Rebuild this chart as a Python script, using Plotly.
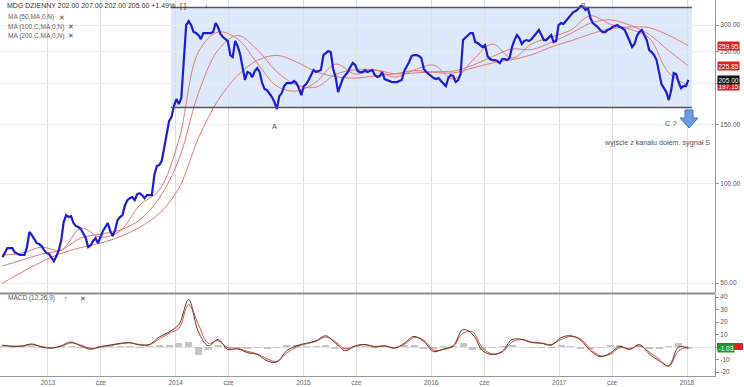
import math
import pandas as pd
import plotly.graph_objects as go

# ---------------- DATA ----------------
price_dates = pd.date_range("2012-08-24", periods=281, freq="7D")
close = [59.9, 62.0, 63.8, 63.8, 63.8, 62.0, 61.2, 60.8, 60.8, 60.8,
         64.2, 71.3, 69.8, 67.9, 66.0, 65.6, 64.7, 62.9, 61.6, 61.2,
         59.9, 58.3, 60.3, 62.9, 67.4, 76.4, 80.2, 79.1, 79.6, 75.9,
         74.3, 73.8, 72.8, 70.3, 68.4, 64.2, 65.1, 66.9, 68.4, 66.0,
         69.3, 71.8, 73.8, 75.9, 71.8, 69.3, 72.3, 77.5, 79.1, 80.2,
         85.9, 89.0, 90.2, 90.9, 89.0, 92.8, 93.4, 92.1, 90.2, 92.1,
         92.1, 92.1, 105.9, 112.7, 113.5, 116.7, 127.7, 139.8, 154.0, 158.4,
         170.9, 179.5, 173.3, 180.7, 243.6, 300.0, 308.4, 300.0, 285.8, 283.8,
         279.9, 272.2, 283.8, 283.8, 283.8, 283.8, 285.8, 304.1, 295.9, 281.8,
         276.0, 272.2, 268.5, 243.6, 240.3, 268.5, 259.3, 245.3, 224.2, 204.8,
         216.5, 215.0, 209.1, 218.0, 222.6, 216.5, 200.6, 192.4, 191.0, 187.1,
         182.0, 175.8, 167.4, 183.2, 187.1, 196.4, 200.6, 200.6, 200.6, 203.4,
         200.6, 193.7, 184.5, 196.4, 199.2, 204.8, 212.0, 219.5, 216.5, 218.0,
         219.5, 243.6, 247.0, 250.5, 248.8, 221.1, 209.1, 188.4, 197.8, 207.7,
         212.0, 216.5, 224.2, 230.5, 227.3, 218.0, 216.5, 216.5, 219.5, 216.5,
         218.0, 219.5, 212.0, 209.1, 210.6, 216.5, 206.2, 204.8, 203.4, 202.0,
         202.0, 202.0, 203.4, 204.8, 218.0, 224.2, 232.1, 242.0, 243.6, 243.6,
         242.0, 238.6, 221.1, 216.5, 213.5, 210.6, 207.7, 206.2, 207.7, 203.4,
         199.2, 196.4, 207.7, 212.0, 210.6, 202.0, 204.8, 213.5, 270.3, 274.1,
         278.0, 283.8, 283.8, 266.6, 264.8, 261.1, 257.5, 261.1, 242.0, 237.0,
         235.3, 235.3, 233.7, 230.5, 237.0, 237.0, 235.3, 238.6, 257.5, 270.3,
         279.9, 274.1, 263.0, 268.5, 270.3, 268.5, 272.2, 278.0, 283.8, 289.8,
         279.9, 270.3, 270.3, 276.0, 279.9, 266.6, 268.5, 300.0, 304.1, 302.1,
         308.4, 314.9, 323.8, 328.3, 330.6, 335.2, 342.2, 339.9, 332.9, 337.5,
         314.9, 304.1, 300.0, 295.9, 289.8, 285.8, 285.8, 289.8, 291.8, 295.9,
         297.9, 300.0, 295.9, 293.8, 289.8, 279.9, 268.5, 257.5, 263.0, 278.0,
         285.8, 289.8, 278.0, 270.3, 252.2, 248.8, 243.6, 235.3, 216.5, 199.2,
         193.7, 188.4, 178.2, 191.0, 215.0, 213.5, 202.0, 193.7, 196.4, 196.4,
         205.0]

ma_dates = pd.date_range("2012-08-24", periods=36, freq="56D")
ma50 = [60.8, 61.6, 64.2, 62.9, 73.3, 68.8, 71.8, 85.9, 95.4, 135.0,
        248.8, 285.8, 272.2, 230.4, 196.4, 189.7, 202.0, 228.8, 213.5, 219.5,
        209.1, 219.5, 227.2, 206.2, 235.2, 263.0, 238.5, 263.0, 276.0, 289.8,
        320.0, 302.1, 291.8, 274.1, 215.0, 197.15]
ma100 = [56.3, 58.7, 61.2, 62.9, 68.4, 70.3, 72.3, 77.5, 90.2, 118.0,
         187.0, 252.0, 279.0, 253.0, 217.0, 198.0, 195.0, 213.0, 220.0, 220.0,
         214.0, 215.0, 217.0, 218.0, 227.0, 241.0, 254.0, 253.0, 266.0, 283.0,
         304.0, 311.0, 300.0, 281.0, 251.0, 225.85]
ma200 = [50.0, 54.0, 58.0, 61.5, 64.0, 66.0, 69.0, 73.7, 81.1, 96.6,
         136.9, 178.0, 211.3, 234.6, 243.0, 232.3, 217.0, 209.7, 207.5, 210.8,
         213.8, 218.5, 216.0, 215.2, 222.7, 230.7, 236.0, 244.0, 257.7, 268.9,
         281.7, 292.6, 295.9, 294.6, 279.2, 259.95]

macd_dates = pd.date_range("2012-08-24", periods=71, freq="28D")
macd = [1.5, 0.5, 0.8, 2.4, 0.0, -1.0, 1.0, 4.0, 0.8, -1.8,
        0.3, 1.6, 2.9, 3.5, 1.6, 2.0, 8.0, 12.0, 18.0, 38.0,
        12.0, 1.0, 6.0, -2.0, -1.5, -4.5, -6.0, -11.0, -12.0, -3.0,
        1.0, 3.0, 5.0, 9.0, 3.0, -3.0, 1.0, 2.0, 0.0, 1.0,
        -1.0, 3.0, 8.5, 4.5, -3.7, -1.5, 1.0, 14.0, 10.0, -3.0,
        -6.0, -3.5, 6.0, 6.0, 3.5, 3.0, 1.5, 7.5, 9.0, 5.5,
        -3.0, -7.7, -5.0, 0.5, -2.0, 2.0, -5.5, -11.0, -15.0, 0.0,
        -1.03]
signal = [1.2, 0.8, 0.7, 1.8, 0.5, -0.6, 0.6, 3.2, 1.5, -1.2,
          -0.2, 1.2, 2.5, 3.3, 2.0, 1.9, 6.5, 11.0, 15.0, 34.0,
          18.0, 3.0, 5.0, -0.5, -1.0, -3.5, -5.5, -9.5, -11.5, -5.0,
          0.0, 2.5, 4.5, 8.0, 4.0, -1.5, 0.5, 1.8, 0.5, 0.8,
          -0.5, 2.0, 7.5, 5.5, -2.5, -2.0, 0.5, 11.0, 12.0, -1.0,
          -5.5, -4.0, 4.0, 6.0, 4.0, 3.2, 2.0, 6.0, 8.5, 6.5,
          -1.5, -7.0, -6.0, -0.5, -1.5, 1.0, -4.0, -9.5, -15.5, -3.0,
          0.3]
hist = [m - s for m, s in zip(macd, signal)]

x_tickvals = ["2013-01-01", "2013-06-01", "2014-01-01", "2014-06-01", "2015-01-01",
              "2015-06-01", "2016-01-01", "2016-06-01", "2017-01-01", "2017-06-01",
              "2018-01-01"]
x_ticktext = ["2013", "cze", "2014", "cze", "2015", "cze", "2016", "cze", "2017", "cze", "2018"]
y_tickvals = [50, 100, 150, 200, 250, 300]
y_ticktext = ["50.00", "100.00", "150.00", "", "250.00", "300.00"]
macd_tickvals = [-20, -10, 0, 10, 20, 30, 40]
macd_ticktext = ["-20", "-10", "", "10", "20", "30", "40"]

channel = dict(x0="2013-12-18", x1="2018-01-15", top=338.7, bottom=169.4)

# ---------------- FIGURE ----------------
FONT = "Liberation Sans, Arial, sans-serif"
W, H = 744, 387
ML, MR, MT, MB = 0, 29, 0, 11
PW, PH = W - ML - MR, H - MT - MB


def px(x):
    return x / PW


def py(y):
    return 1 - y / PH


fig = go.Figure()

for ma in (ma200, ma100, ma50):
    fig.add_trace(go.Scatter(x=ma_dates, y=ma, mode="lines",
                             line=dict(color="#e07a70", width=1, shape="spline"),
                             xaxis="x", yaxis="y", hoverinfo="skip"))
fig.add_trace(go.Scatter(x=price_dates, y=close, mode="lines", line=dict(color="#1c1cd0", width=2.2),
                         xaxis="x", yaxis="y"))

fig.add_trace(go.Bar(x=macd_dates, y=hist, marker=dict(color="#c4c4c4", line=dict(width=0)),
                     width=20 * 24 * 3600 * 1000, xaxis="x2", yaxis="y2"))
fig.add_trace(go.Scatter(x=macd_dates, y=signal, mode="lines", line=dict(color="#e0503c", width=1, shape="spline"),
                         xaxis="x2", yaxis="y2"))
fig.add_trace(go.Scatter(x=macd_dates, y=macd, mode="lines", line=dict(color="#5a3b2a", width=1, shape="spline"),
                         xaxis="x2", yaxis="y2"))

xrange = ["2012-08-17", "2018-03-22"]
main_dom = [py(293), 1]
macd_dom = [0, py(294)]

fig.update_layout(
    width=W, height=H,
    margin=dict(l=ML, r=MR, t=MT, b=MB),
    paper_bgcolor="white", plot_bgcolor="white",
    showlegend=False,
    font=dict(family=FONT, size=7, color="#555"),
    bargap=0,
    xaxis=dict(domain=[0, 1], anchor="y", type="date", range=xrange, tickvals=x_tickvals,
               showticklabels=False, showgrid=True, gridcolor="#dedede", gridwidth=1, zeroline=False,
               showline=False),
    xaxis2=dict(domain=[0, 1], anchor="y2", type="date", range=xrange, matches="x", tickvals=x_tickvals,
                ticktext=x_ticktext, showgrid=True, gridcolor="#dedede", gridwidth=1,
                showline=True, linecolor="#999", linewidth=1, ticks="", ticklen=0,
                tickfont=dict(family=FONT, size=6.5, color="#666")),
    yaxis=dict(domain=main_dom, anchor="x", type="log", side="right",
               range=[math.log10(46.7), math.log10(357)], tickvals=y_tickvals, ticktext=y_ticktext,
               showgrid=True, gridcolor="#ececec", zeroline=False, showline=True, linecolor="#999",
               ticks="outside", ticklen=3, tickcolor="#999",
               tickfont=dict(family=FONT, size=6.5, color="#555")),
    yaxis2=dict(domain=macd_dom, anchor="x2", side="right", range=[-23.2, 42.4],
                tickvals=macd_tickvals, ticktext=macd_ticktext, showgrid=False,
                zeroline=True, zerolinecolor="#e4e4e4", zerolinewidth=1,
                showline=True, linecolor="#999", ticks="outside", ticklen=3, tickcolor="#999",
                tickfont=dict(family=FONT, size=6.5, color="#555")),
)

# channel (shapes on a log axis take data values)
fig.add_shape(type="rect", xref="x", yref="y", x0=channel["x0"], x1=channel["x1"],
              y0=channel["bottom"], y1=channel["top"],
              fillcolor="rgba(170,200,245,0.40)", line=dict(width=0), layer="below")
for lvl in (channel["top"], channel["bottom"]):
    fig.add_shape(type="line", xref="x", yref="y", x0=channel["x0"], x1=channel["x1"],
                  y0=lvl, y1=lvl, line=dict(color="#555", width=1.5))

# panel separator
fig.add_shape(type="line", xref="paper", yref="paper", x0=0, x1=1, y0=py(293.5), y1=py(293.5),
              line=dict(color="#8c8c8c", width=2))

# blue down arrow
pts = [(685, 110), (693, 110), (693, 118), (698, 118), (689, 128), (680, 118), (685, 118)]
path = "M " + " L ".join(f"{px(a):.5f},{py(b):.5f}" for a, b in pts) + " Z"
fig.add_shape(type="path", xref="paper", yref="paper", path=path,
              fillcolor="#6e9be0", line=dict(color="#4a72b8", width=1))

# signal-value tag mostly hidden behind the MACD tag
fig.add_shape(type="rect", xref="paper", yref="paper", x0=px(717), x1=px(743), y0=py(350), y1=py(343),
              fillcolor="#e0201c", line=dict(width=0))


def txt(x, y, s, size=7, color="#444", anchor="left"):
    fig.add_annotation(xref="paper", yref="paper", x=px(x), y=py(y), text=s, showarrow=False,
                       xanchor=anchor, yanchor="middle", font=dict(family=FONT, size=size, color=color))


txt(5, 6, "MDG DZIENNY 202.00 207.00 202.00 205.00 +1.49%", size=7, color="#333")
txt(178, 6, "[ ]", size=7, color="#333")
txt(202, 6, "↓", size=8, color="#333")
txt(6, 17, "MA (50,MA,0,N)", size=6.5, color="#666")
txt(57, 17, "✕", size=7, color="#444")
txt(6, 27, "MA (100,C,MA,0,N)", size=6.5, color="#666")
txt(66, 27, "✕", size=7, color="#444")
txt(6, 36, "MA (200,C,MA,0,N)", size=6.5, color="#666")
txt(66, 36, "✕", size=7, color="#444")
txt(6, 298, "MACD (12,26,9)", size=6.5, color="#555")
txt(62, 298, "↑", size=7, color="#444")
txt(78, 298, "✕", size=7, color="#444")

txt(274, 127, "A", size=7.5, color="#555", anchor="center")
txt(583, 5, "B", size=7, color="#555", anchor="center")
txt(671, 124, "C ?", size=7.5, color="#555", anchor="center")
txt(657, 142, "wyjście z kanału dołem. sygnał S", size=7.2, color="#555", anchor="center")


def vlabel(yref, yval, s, bg):
    fig.add_annotation(xref="paper", yref=yref, x=1, y=yval, xanchor="left", yanchor="middle",
                       xshift=2, text=s, showarrow=False, bgcolor=bg, borderpad=0.5,
                       font=dict(family=FONT, size=6.5, color="white"))


vlabel("y", math.log10(ma200[-1]), f"{ma200[-1]:.2f}", "#e0201c")
vlabel("y", math.log10(ma100[-1]), f"{ma100[-1]:.2f}", "#e0201c")
vlabel("y", math.log10(ma50[-1]), f"{ma50[-1]:.2f}", "#e0201c")
vlabel("y", math.log10(close[-1]), f"{close[-1]:.2f}", "#111111")
vlabel("y2", macd[-1], f"{macd[-1]:.2f}", "#1f9a2a")

fig.write_html("out.html")
